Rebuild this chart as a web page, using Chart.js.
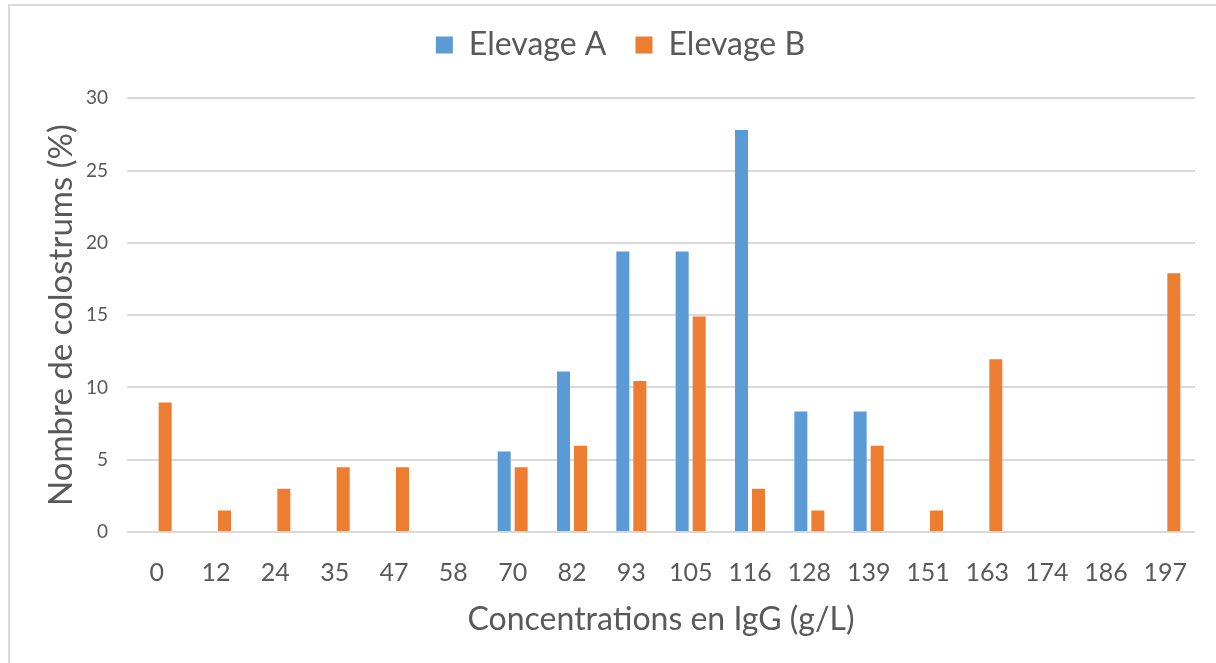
<!DOCTYPE html>
<html>
<head>
<meta charset="utf-8">
<script src="https://cdn.jsdelivr.net/npm/chart.js@4.4.1/dist/chart.umd.min.js"></script>
<style>
body{margin:0;background:#fff}
#frame{position:absolute;left:8px;top:4px;width:1208px;height:659px;border-top:2px solid #d9d9d9;border-left:2px solid #d9d9d9;box-sizing:border-box}
#chart{position:absolute;left:0;top:0}
</style>
</head>
<body>
<div id="frame"></div>
<canvas id="chart" width="1216" height="663"></canvas>
<script>
// IgG concentration classes (g/L)
const categories=["0","12","24","35","47","58","70","82","93","105","116","128","139","151","163","174","186","197"]

// % of colostrums per class
const elevageA=[0,0,0,0,0,0,5.56,11.1,19.4,19.4,27.8,8.33,8.33,0,0,0,0,0]
const elevageB=[8.96,1.49,2.99,4.48,4.48,0,4.48,5.97,10.45,14.9,2.99,1.49,5.97,1.49,11.94,0,0,17.9]

const yTicks=[0,5,10,15,20,25,30]

const textColor="#595959"
const gridColor="#d9d9d9"

Chart.defaults.font.family="Lato, 'Open Sans', sans-serif"
Chart.defaults.color=textColor

const ctx=document.getElementById("chart").getContext("2d")

new Chart(ctx,{
type:"bar",
data:{
labels:categories,
datasets:[{
label:"Elevage A",
data:elevageA,
backgroundColor:"#5b9bd5",
barPercentage:0.765,
categoryPercentage:0.573
},{
label:"Elevage B",
data:elevageB,
backgroundColor:"#ed7d31",
barPercentage:0.765,
categoryPercentage:0.573
}]
},
options:{
responsive:false,
animation:false,
layout:{padding:{top:0,right:21,left:46,bottom:0}},
plugins:{
legend:{
position:"top",
labels:{
font:{size:32},
color:textColor,
boxWidth:17,
boxHeight:17,
padding:29
}
},
// empty spacer between legend and plot
subtitle:{
display:true,
text:"",
position:"top",
weight:500,
font:{size:1},
padding:{top:0,bottom:26}
},
tooltip:{enabled:false}
},
scales:{
x:{
grid:{display:false,drawTicks:false},
border:{display:false},
ticks:{
font:{size:25},
color:textColor,
padding:26,
maxRotation:0,
autoSkip:false
},
title:{
display:true,
text:"Concentrations en IgG (g/L)",
font:{size:32},
color:textColor,
padding:{top:0,bottom:24}
},
afterFit:(axis)=>{axis.height=131}
},
y:{
min:0,
max:30,
grid:{color:gridColor,lineWidth:2,drawTicks:false},
border:{display:false},
afterBuildTicks:(axis)=>{axis.ticks=yTicks.map(v=>({value:v}))},
ticks:{
font:{size:19},
color:textColor,
padding:19
},
title:{
display:true,
text:"Nombre de colostrums (%)",
font:{size:33},
color:textColor,
padding:{top:-4,bottom:0}
},
afterFit:(axis)=>{axis.width=81}
}
}
}
})
</script>
</body>
</html>
